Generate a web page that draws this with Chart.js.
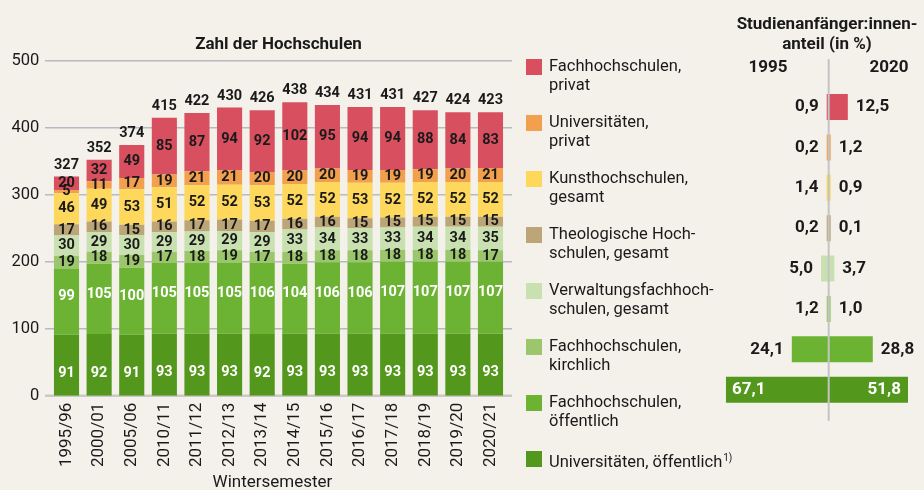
<!DOCTYPE html>
<html><head><meta charset="utf-8">
<script src="https://cdn.jsdelivr.net/npm/chart.js@4.4.1/dist/chart.umd.min.js"></script>
<style>
html,body{margin:0;padding:0;background:#f3f1ea;}
#wrap{position:relative;width:924px;height:490px;overflow:hidden;background:#f3f1ea;font-family:Roboto,"Open Sans",sans-serif;color:#1a1a1a;}
canvas{position:absolute;top:0;}
#c1{left:0;}
#c2{left:720px;}
.t{position:absolute;white-space:nowrap;line-height:1.172;}
.b{font-weight:bold;}
.sq{position:absolute;width:16px;height:16px;}
.lt{position:absolute;font-size:16.5px;line-height:18.7px;white-space:pre;}
</style></head>
<body><div id="wrap">
<canvas id="c1" width="520" height="490"></canvas>
<canvas id="c2" width="204" height="490"></canvas>
<div class="t b" style="left:0;width:557px;text-align:center;top:33.5px;font-size:17px;">Zahl der Hochschulen</div>
<div class="t" style="left:0;width:545px;text-align:center;top:471.5px;font-size:17px;">Wintersemester</div>
<div class="t b" style="left:720px;width:214px;text-align:center;top:13.5px;font-size:17px;">Studienanfänger:innen-</div>
<div class="t b" style="left:720px;width:214px;text-align:center;top:33.5px;font-size:17px;">anteil (in %)</div>
<div class="t b" style="left:728px;width:80px;text-align:center;top:57px;font-size:17px;">1995</div>
<div class="t b" style="left:849px;width:80px;text-align:center;top:57px;font-size:17px;">2020</div>
<div id="legend"></div>
</div>
<script>
// ---------- data ----------
const categories = ['1995/96','2000/01','2005/06','2010/11','2011/12','2012/13','2013/14','2014/15','2015/16','2016/17','2017/18','2018/19','2019/20','2020/21'];
const uniOeffentlich   = [91, 92, 91, 93, 93, 93, 92, 93, 93, 93, 93, 93, 93, 93];
const fhOeffentlich    = [99,105,100,105,105,105,106,104,106,106,107,107,107,107];
const fhKirchlich      = [19, 18, 19, 17, 18, 19, 17, 18, 18, 18, 18, 18, 18, 17];
const verwaltungsFH    = [30, 29, 30, 29, 29, 29, 29, 33, 34, 33, 33, 34, 34, 35];
const theologischeHS   = [17, 16, 15, 16, 17, 17, 17, 16, 16, 15, 15, 15, 15, 15];
const kunstHS          = [46, 49, 53, 51, 52, 52, 53, 52, 52, 53, 52, 52, 52, 52];
const uniPrivat        = [ 5, 11, 17, 19, 21, 21, 20, 20, 20, 19, 19, 19, 20, 21];
const fhPrivat         = [20, 32, 49, 85, 87, 94, 92,102, 95, 94, 94, 88, 84, 83];
const totals           = [327,352,374,415,422,430,426,438,434,431,431,427,424,423];
const yTicks = [0,100,200,300,400,500];

// legend labels (top to bottom)
const legendLabels = ['Fachhochschulen,\nprivat','Universitäten,\nprivat','Kunsthochschulen,\ngesamt','Theologische Hoch-\nschulen, gesamt','Verwaltungsfachhoch-\nschulen, gesamt','Fachhochschulen,\nkirchlich','Fachhochschulen,\nöffentlich','Universitäten, öffentlich'];
// Studienanfänger:innenanteil (in %), same order as legend
const share1995 = [0.9, 0.2, 1.4, 0.2, 5.0, 1.2, 24.1, 67.1];
const share2020 = [12.5, 1.2, 0.9, 0.1, 3.7, 1.0, 28.8, 51.8];

// ---------- styles ----------
const colors = ['#d84f5f','#f2a04e','#fdd85c','#bca677','#c9e1b1','#9bc66c','#6cb334','#54971d']; // legend order
const TXT = '#1a1a1a';
const FONT = 'Roboto, "Open Sans", sans-serif';

// stacked series bottom->top
const stackSeries = [uniOeffentlich, fhOeffentlich, fhKirchlich, verwaltungsFH, theologischeHS, kunstHS, uniPrivat, fhPrivat];
const datasets = stackSeries.map((d, i) => {
  const li = 7 - i;
  return {
    label: legendLabels[li].replace('\n',' '),
    data: d,
    backgroundColor: colors[li],
    labelColor: i < 2 ? '#ffffff' : TXT,
    labelDy: i === 0 ? 8 : (i === 1 ? -5 : 0)
  };
});

const gridPlugin = {
  id: 'grid',
  beforeDatasetsDraw(chart) {
    const ctx = chart.ctx, y = chart.scales.y;
    ctx.save();
    yTicks.forEach(v => {
      const py = y.getPixelForValue(v);
      ctx.beginPath();
      ctx.strokeStyle = v === 0 ? '#c9c9c9' : '#b9bac1';
      ctx.lineWidth = v === 0 ? 2.5 : 1.5;
      ctx.moveTo(45, py); ctx.lineTo(512, py); ctx.stroke();
    });
    ctx.restore();
  }
};
const labelPlugin = {
  id: 'segLabels',
  afterDatasetsDraw(chart) {
    const ctx = chart.ctx;
    ctx.save();
    ctx.textAlign = 'center';
    ctx.textBaseline = 'middle';
    ctx.font = 'bold 14.5px ' + FONT;
    chart.data.datasets.forEach((ds, i) => {
      const meta = chart.getDatasetMeta(i);
      meta.data.forEach((bar, j) => {
        ctx.fillStyle = ds.labelColor;
        ctx.fillText(String(ds.data[j]), bar.x, (bar.y + bar.base) / 2 + ds.labelDy);
      });
    });
    const topMeta = chart.getDatasetMeta(chart.data.datasets.length - 1);
    ctx.textBaseline = 'alphabetic';
    ctx.fillStyle = TXT;
    topMeta.data.forEach((bar, j) => ctx.fillText(String(totals[j]), bar.x, bar.y - 8));
    ctx.restore();
  }
};

new Chart(document.getElementById('c1'), {
  type: 'bar',
  data: { labels: categories, datasets },
  options: {
    responsive: false, animation: false,
    layout: { padding: { top: 60.7, right: 13.2, left: 0, bottom: 0 } },
    plugins: { legend: { display: false }, tooltip: { enabled: false }, title: { display: false } },
    datasets: { bar: { categoryPercentage: 1, barPercentage: 0.77 } },
    scales: {
      x: {
        stacked: true,
        grid: { display: false, drawTicks: false }, border: { display: false },
        ticks: { maxRotation: 90, minRotation: 90, padding: 7, color: TXT, font: { family: FONT, size: 17 } },
        afterFit(s) { s.height = 94.3; }
      },
      y: {
        stacked: true, min: 0, max: 500,
        grid: { display: false, drawTicks: false }, border: { display: false },
        ticks: { stepSize: 100, padding: 11, color: TXT, font: { family: FONT, size: 16.5 } },
        afterFit(s) { s.width = 50.2; }
      }
    }
  },
  plugins: [gridPlugin, labelPlugin]
});

// ---------- right panel ----------
const fmt = v => v.toFixed(1).replace('.', ',');
const rightPlugin = {
  id: 'rightLabels',
  afterDatasetsDraw(chart) {
    const ctx = chart.ctx, xs = chart.scales.x;
    const x0 = xs.getPixelForValue(0);
    ctx.save();
    ctx.beginPath();
    ctx.strokeStyle = '#c4c4c4'; ctx.lineWidth = 2;
    ctx.moveTo(x0, 59); ctx.lineTo(x0, 421); ctx.stroke();
    ctx.font = 'bold 17px ' + FONT;
    ctx.textBaseline = 'middle';
    const m0 = chart.getDatasetMeta(0), m1 = chart.getDatasetMeta(1);
    m0.data.forEach((bar, j) => {
      const t = fmt(share1995[j]);
      const w = ctx.measureText(t).width;
      const len = x0 - bar.x;
      if (len > w + 16) { ctx.fillStyle = '#fff'; ctx.textAlign = 'left'; ctx.fillText(t, bar.x + 6, bar.y); }
      else { ctx.fillStyle = TXT; ctx.textAlign = 'right'; ctx.fillText(t, Math.min(bar.x, x0 - 2) - 8, bar.y); }
    });
    m1.data.forEach((bar, j) => {
      const t = fmt(share2020[j]);
      const w = ctx.measureText(t).width;
      const len = bar.x - x0;
      if (len > w + 16) { ctx.fillStyle = '#fff'; ctx.textAlign = 'right'; ctx.fillText(t, bar.x - 7, bar.y); }
      else { ctx.fillStyle = TXT; ctx.textAlign = 'left'; ctx.fillText(t, Math.max(bar.x, x0 + 2) + 8, bar.y); }
    });
    ctx.restore();
  }
};
new Chart(document.getElementById('c2'), {
  type: 'bar',
  data: {
    labels: legendLabels,
    datasets: [
      { label: '1995', data: share1995.map(v => -v), backgroundColor: colors },
      { label: '2020', data: share2020, backgroundColor: colors }
    ]
  },
  options: {
    indexAxis: 'y', responsive: false, animation: false,
    layout: { padding: { top: 86.8, bottom: 80.1, left: 0, right: 0 } },
    plugins: { legend: { display: false }, tooltip: { enabled: false } },
    datasets: { bar: { categoryPercentage: 1, barPercentage: 0.644, minBarLength: 2 } },
    scales: {
      x: { display: false, stacked: true, min: -71, max: 62.25 },
      y: { display: false, stacked: true }
    }
  },
  plugins: [rightPlugin]
});

// ---------- legend (HTML) ----------
const lg = document.getElementById('legend');
legendLabels.forEach((lab, k) => {
  const top = 59.3 + k * 56;
  const sq = document.createElement('div');
  sq.className = 'sq'; sq.style.left = '526px'; sq.style.top = top + 'px'; sq.style.background = colors[k];
  lg.appendChild(sq);
  const tx = document.createElement('div');
  tx.className = 'lt'; tx.style.left = '549px'; tx.style.top = (top - 2.2) + 'px';
  tx.textContent = lab;
  if (k === legendLabels.length - 1) {
    const sup = document.createElement('span');
    sup.textContent = '1)';
    sup.style.fontSize = '10px'; sup.style.verticalAlign = '6px'; sup.style.marginLeft = '1px';
    tx.appendChild(sup);
  }
  lg.appendChild(tx);
});
</script>
</body></html>
